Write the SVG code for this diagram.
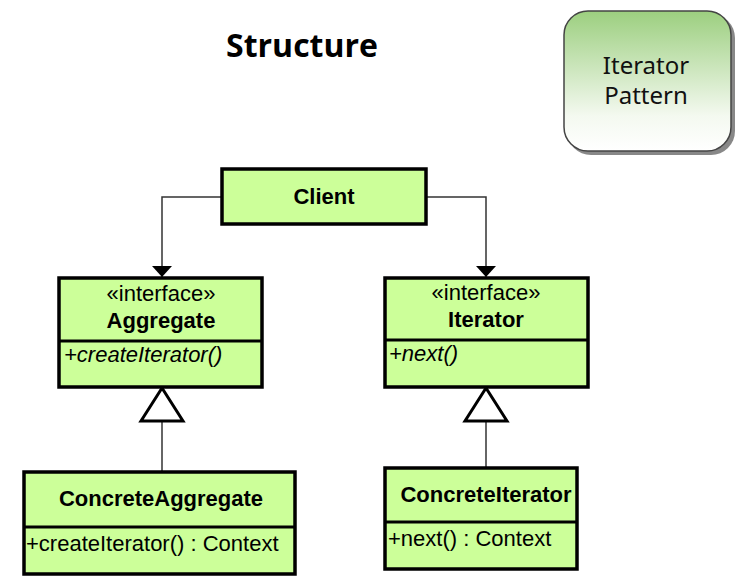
<svg xmlns="http://www.w3.org/2000/svg" width="744" height="588" viewBox="0 0 744 588">
<style>
.box{fill:#ccff99;stroke:#000;stroke-width:3.5}
.div{stroke:#000;stroke-width:3}
.t{font-family:"Liberation Sans",Arial,sans-serif;font-size:22px;fill:#000}
.b{font-weight:bold}
.i{font-style:italic}
.c{text-anchor:middle}
.con{fill:none;stroke:#333;stroke-width:1.5}
</style>
<defs>
<linearGradient id="g" x1="0" y1="0" x2="0" y2="1">
<stop offset="0" stop-color="#9ccf7f"/>
<stop offset="0.75" stop-color="#f4f9f0"/>
<stop offset="1" stop-color="#ffffff"/>
</linearGradient>
<marker id="arr" markerWidth="11" markerHeight="20" refX="11" refY="10" orient="auto" markerUnits="userSpaceOnUse">
<path d="M0,0 L11,10 L0,20 Z" fill="#000"/>
</marker>
</defs>
<rect width="744" height="588" fill="#fff"/>
<text x="302" y="57" font-family="'Open Sans',sans-serif" font-size="32" font-weight="bold" text-anchor="middle">Structure</text>
<g id="title-box">
<rect x="567" y="14" width="168" height="141" rx="24" fill="#555" opacity="0.7"/>
<rect x="564" y="11" width="167" height="140" rx="24" fill="url(#g)" stroke="#444" stroke-width="1.5"/>
<text x="646" y="74" font-family="'Noto Sans',sans-serif" font-size="24" text-anchor="middle" fill="#111">Iterator</text>
<text x="646" y="104" font-family="'Noto Sans',sans-serif" font-size="24" text-anchor="middle" fill="#111">Pattern</text>
</g>
<g id="connectors">
<path class="con" d="M222,197 H162 V277" marker-end="url(#arr)"/>
<path class="con" d="M426,197 H486 V277" marker-end="url(#arr)"/>
<line class="con" x1="162" y1="421" x2="162" y2="472"/>
<polygon points="162,388 141,421 183,421" fill="#fff" stroke="#000" stroke-width="3"/>
<line class="con" x1="486" y1="421" x2="486" y2="468"/>
<polygon points="486,388 465,421 507,421" fill="#fff" stroke="#000" stroke-width="3"/>
</g>
<g id="client">
<rect class="box" x="222" y="169" width="204" height="55"/>
<text class="t b c" x="324" y="204">Client</text>
</g>
<g id="aggregate">
<rect class="box" x="59" y="278" width="203" height="109"/>
<line class="div" x1="59" y1="341" x2="262" y2="341"/>
<text class="t c" x="161" y="301">«interface»</text>
<text class="t b c" x="161" y="328">Aggregate</text>
<text class="t i" x="64" y="362">+createIterator()</text>
</g>
<g id="iterator">
<rect class="box" x="385" y="278" width="203" height="109"/>
<line class="div" x1="385" y1="340" x2="588" y2="340"/>
<text class="t c" x="486" y="300">«interface»</text>
<text class="t b c" x="486" y="327">Iterator</text>
<text class="t i" x="389" y="361">+next()</text>
</g>
<g id="concrete-aggregate">
<rect class="box" x="24" y="472" width="271" height="102"/>
<line class="div" x1="24" y1="527" x2="295" y2="527"/>
<text class="t b c" x="161" y="506">ConcreteAggregate</text>
<text class="t" x="26" y="551">+createIterator() : Context</text>
</g>
<g id="concrete-iterator">
<rect class="box" x="385" y="468" width="192" height="101"/>
<line class="div" x1="385" y1="522" x2="577" y2="522"/>
<text class="t b c" x="486" y="502">ConcreteIterator</text>
<text class="t" x="388" y="546">+next() : Context</text>
</g>
</svg>
